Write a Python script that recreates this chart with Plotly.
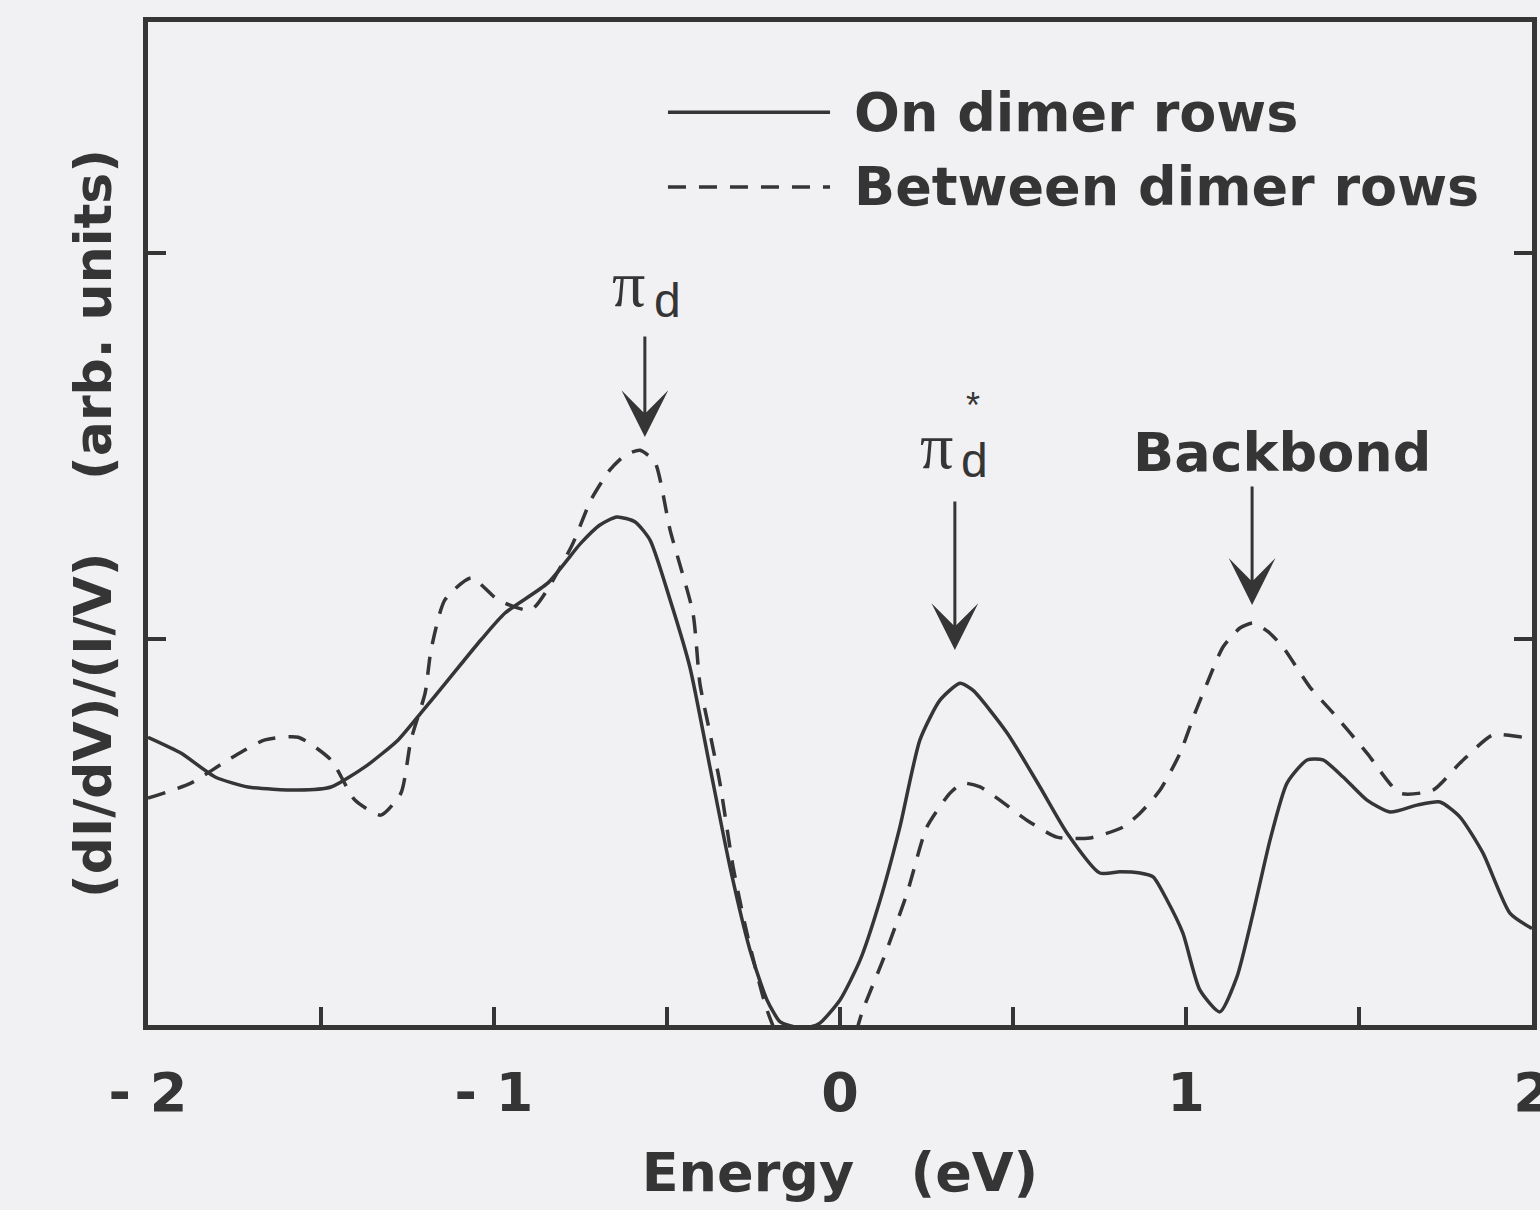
import plotly.graph_objects as go

# Normalized tunneling conductance vs. sample bias
energy_on = [-2.000, -1.905, -1.806, -1.711, -1.566, -1.471, -1.373, -1.277, -1.211, -1.133,
             -1.038, -0.968, -0.844, -0.749, -0.694, -0.645, -0.592, -0.549, -0.491, -0.434,
             -0.376, -0.318, -0.260, -0.211, -0.173, -0.130, -0.087, -0.058, 0.000, 0.058,
             0.116, 0.173, 0.231, 0.289, 0.347, 0.384, 0.483, 0.578, 0.656, 0.751,
             0.809, 0.867, 0.905, 0.945, 0.991, 1.040, 1.098, 1.147, 1.194, 1.243,
             1.292, 1.350, 1.396, 1.454, 1.523, 1.590, 1.668, 1.734, 1.792, 1.858,
             1.936, 2.000]
on_rows = [0.746, 0.705, 0.643, 0.617, 0.609, 0.617, 0.669, 0.739, 0.809, 0.894,
           0.998, 1.068, 1.146, 1.249, 1.296, 1.317, 1.304, 1.257, 1.102, 0.928,
           0.669, 0.410, 0.194, 0.065, 0.008, -0.005, -0.005, 0.005, 0.065, 0.168,
           0.324, 0.513, 0.739, 0.842, 0.886, 0.868, 0.757, 0.617, 0.498, 0.394,
           0.397, 0.394, 0.384, 0.324, 0.238, 0.091, 0.034, 0.124, 0.290, 0.480,
           0.627, 0.687, 0.687, 0.643, 0.583, 0.552, 0.570, 0.578, 0.539, 0.446,
           0.290, 0.250]

energy_between = [-2.000, -1.876, -1.760, -1.662, -1.566, -1.471, -1.402, -1.327, -1.269, -1.240,
                  -1.199, -1.182, -1.142, -1.066, -0.988, -0.893, -0.777, -0.720, -0.665, -0.621,
                  -0.578, -0.535, -0.491, -0.425, -0.405, -0.376, -0.347, -0.309, -0.269, -0.211,
                  -0.145, -0.029, 0.029, 0.066, 0.124, 0.194, 0.251, 0.318, 0.355, 0.405,
                  0.462, 0.540, 0.627, 0.723, 0.818, 0.867, 0.925, 0.983, 1.026, 1.061,
                  1.107, 1.156, 1.194, 1.238, 1.280, 1.358, 1.425, 1.523, 1.618, 1.714,
                  1.792, 1.887, 1.974, 2.000]
between_rows = [0.588, 0.627, 0.692, 0.739, 0.746, 0.687, 0.583, 0.544, 0.601, 0.739,
                0.861, 0.972, 1.102, 1.159, 1.102, 1.076, 1.239, 1.361, 1.439, 1.477,
                1.490, 1.459, 1.283, 1.068, 0.886, 0.757, 0.627, 0.410, 0.238, 0.039,
                -0.091, -0.143, -0.065, 0.039, 0.168, 0.342, 0.513, 0.601, 0.627, 0.617,
                0.583, 0.531, 0.487, 0.485, 0.513, 0.549, 0.609, 0.705, 0.809, 0.886,
                0.980, 1.029, 1.042, 1.019, 0.980, 0.876, 0.809, 0.705, 0.601, 0.609,
                0.679, 0.752, 0.746, 0.746]

x_tick_vals = [-2, -1.5, -1, -0.5, 0, 0.5, 1, 1.5, 2]
x_tick_text = ["- 2", "", "- 1", "", "0", "", "1", "", "2"]
y_tick_vals = [0, 1, 2]

series_names = ["On dimer rows", "Between dimer rows"]

INK = "#353535"
BG = "#f1f1f3"
BOLD = "DejaVu Sans"
NB = "\u00a0"

fig = go.Figure()
fig.add_trace(go.Scatter(x=energy_on, y=on_rows, mode="lines", name=series_names[0],
                         line=dict(color=INK, width=3.5, shape="spline", smoothing=0.6)))
fig.add_trace(go.Scatter(x=energy_between, y=between_rows, mode="lines", name=series_names[1],
                         line=dict(color=INK, width=3.5, dash="18px,13px",
                                   shape="spline", smoothing=0.6)))

axis_common = dict(showgrid=False, zeroline=False, showline=True, linecolor=INK, linewidth=5,
                   ticks="inside", ticklen=18, tickwidth=4, tickcolor=INK, automargin=False)

fig.update_xaxes(range=[-2, 2], tickvals=x_tick_vals, ticktext=x_tick_text, mirror=True,
                 tickfont=dict(family=BOLD, size=54, color=INK, weight="bold"),
                 ticklabelstandoff=16, ticklabeloverflow="allow",
                 title=dict(text="Energy" + NB * 3 + "(eV)", standoff=32,
                            font=dict(family=BOLD, size=54, color=INK, weight="bold")),
                 **axis_common)
fig.update_yaxes(range=[0, 2.6], tickvals=y_tick_vals, showticklabels=False, mirror="ticks",
                 title=dict(text="(dI/dV)/(I/V)" + NB * 4 + "(arb." + NB + "units)", standoff=16,
                            font=dict(family=BOLD, size=52, color=INK, weight="bold")),
                 **axis_common)

ann = []
# legend
legend_rows = [(0.910, "solid"), (0.8355, "18px,13px")]
shapes = []
for (yp, dash), name in zip(legend_rows, series_names):
    shapes.append(dict(type="line", xref="paper", yref="paper", x0=0.3757, x1=0.4928, y0=yp, y1=yp,
                       line=dict(color=INK, width=3.5, dash=dash)))
    ann.append(dict(xref="paper", yref="paper", x=0.5087, y=yp, xanchor="left", yanchor="middle",
                    text=name.replace(" ", NB), showarrow=False,
                    font=dict(family=BOLD, size=54, color=INK, weight="bold")))

serif = dict(family="Liberation Serif", size=66, color=INK)
sans = dict(family="Liberation Sans", size=48, color=INK)
# pi_d
ann.append(dict(x=-0.610, y=1.923, text="π", showarrow=False, font=serif))
ann.append(dict(x=-0.500, y=1.879, text="d", showarrow=False, font=sans))
# pi*_d
ann.append(dict(x=0.280, y=1.503, text="π", showarrow=False, font=serif))
ann.append(dict(x=0.390, y=1.464, text="d", showarrow=False, font=sans))
ann.append(dict(x=0.384, y=1.607, text="*", showarrow=False,
                font=dict(family="Liberation Sans", size=36, color=INK)))
# backbond
ann.append(dict(x=1.277, y=1.483, text="Backbond", showarrow=False,
                font=dict(family=BOLD, size=54, color=INK, weight="bold")))

# arrows pointing at the peaks
for tx, ty, tail in [(-0.564, 1.524, -102), (0.332, 0.972, -150), (1.191, 1.089, -120)]:
    ann.append(dict(x=tx, y=ty, ax=0, ay=tail, text="", showarrow=True,
                    arrowhead=3, arrowwidth=3, arrowsize=2.6, arrowcolor=INK))

fig.update_layout(width=1540, height=1210, margin=dict(l=148, r=8, t=22, b=185),
                  paper_bgcolor=BG, plot_bgcolor=BG, showlegend=False,
                  annotations=ann, shapes=shapes)

fig.write_html("out.html")
